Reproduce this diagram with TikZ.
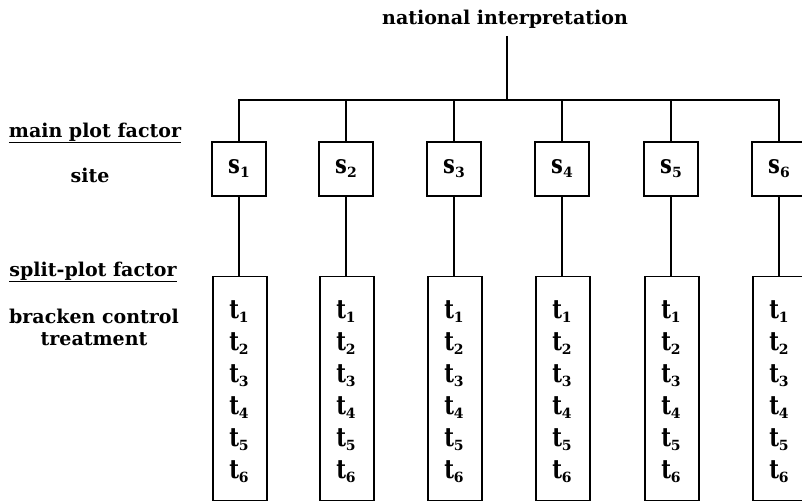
\documentclass[tikz,border=0pt]{standalone}
\usepackage{fontspec}
\setmainfont{DejaVu Serif}
\tikzset{
  lbl/.style={font=\bfseries\fontsize{19}{22}\selectfont, inner sep=0pt},
  sbox/.style={draw, line width=1.2pt, minimum width=54pt, minimum height=54pt, inner sep=0pt, font=\bfseries\fontsize{21}{24}\selectfont},
  tbox/.style={draw, line width=1.2pt, minimum width=54pt, minimum height=224pt, inner sep=0pt, anchor=north},
  tlist/.style={font=\bfseries\fontsize{21}{32}\selectfont, align=center, inner sep=0pt, anchor=north},
  conn/.style={line width=1.1pt}
}
\newcommand{\subx}[2]{\scalebox{1}[1.25]{#1}\raisebox{-4pt}{\fontsize{14}{15}\selectfont #2}}
\begin{document}
\begin{tikzpicture}[x=1pt,y=-1pt]
\useasboundingbox (0,0) rectangle (802,502);
\clip (0,0) rectangle (802,502);
\node[lbl] (title) at (505,19) {national interpretation};
\coordinate (J) at (507,100);
\coordinate (Jtop) at (507,36);
\node[lbl] (mpf) at (95,133) {\underline{main plot factor}};
\node[lbl] (site) at (90,175) {site};
\node[lbl] (spf) at (93,272) {\underline{split-plot factor}};
\node[lbl, align=center] (bct) at (94,327) {bracken control\\treatment};
\foreach \i/\x in {1/239,2/346,3/454,4/562,5/671,6/779}{
  \node[sbox] (s\i) at (\x,169) {\subx{s}{\i}};
  \node[tbox] (t\i) at (\x+1,276) {};
  \node[tlist] (l\i) at (\x,300) {\subx{t}{1}\\\subx{t}{2}\\\subx{t}{3}\\\subx{t}{4}\\\subx{t}{5}\\\subx{t}{6}};
  \draw[conn] (J) -| (s\i.north);
  \draw[conn] (s\i.south) -- (s\i.south |- t\i.north);
}
\draw[conn] (Jtop) -- (J);
\end{tikzpicture}
\end{document}
